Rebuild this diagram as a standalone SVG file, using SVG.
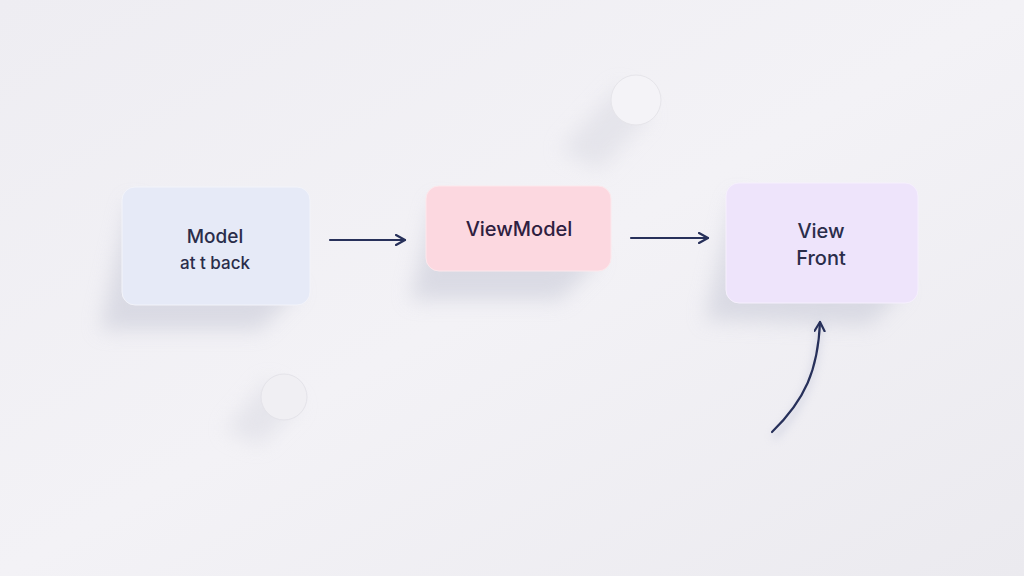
<svg xmlns="http://www.w3.org/2000/svg" width="1024" height="576" viewBox="0 0 1024 576">
<defs>
<linearGradient id="bg" x1="0" y1="0" x2="1" y2="1">
<stop offset="0" stop-color="#eeedf2"/>
<stop offset="0.5" stop-color="#f3f2f6"/>
<stop offset="1" stop-color="#ebeaef"/>
</linearGradient>
<filter id="blur" x="-50%" y="-50%" width="200%" height="200%"><feGaussianBlur stdDeviation="10"/></filter>
<filter id="blur2" x="-50%" y="-50%" width="200%" height="200%"><feGaussianBlur stdDeviation="4"/></filter>
<marker id="ah" viewBox="0 0 12 12" refX="10" refY="6" markerWidth="12" markerHeight="12" markerUnits="userSpaceOnUse" orient="auto">
<path d="M1,1 L10,6 L1,11" fill="none" stroke="#27305a" stroke-width="2.2" stroke-linejoin="round" stroke-linecap="round"/>
</marker>
<style>
.lbl{font-family:"Inter","Liberation Sans",sans-serif;fill:#2a2d4a;text-anchor:middle;font-weight:500}
.conn{fill:none;stroke:#27305a;stroke-width:2.2;stroke-linecap:round}
.shadow{fill:#c6c8d6;opacity:0.55;filter:url(#blur)}
</style>
</defs>
<rect width="1024" height="576" fill="url(#bg)"/>
<g id="shadows">
<path class="shadow" d="M130,200 L100,330 L260,330 L300,290 Z"/>
<path class="shadow" d="M435,200 L410,300 L560,300 L600,260 Z"/>
<path class="shadow" d="M735,195 L705,320 L870,325 L905,290 Z"/>
<path d="M620,85 L560,150 L600,170 L650,115 Z" fill="#dcdce4" opacity="0.6" filter="url(#blur)"/>
<path d="M268,380 L225,430 L260,445 L300,405 Z" fill="#dcdce4" opacity="0.6" filter="url(#blur)"/>
</g>
<circle cx="636" cy="100" r="25" fill="#f4f3f7" stroke="#e6e5ea" stroke-width="1"/>
<circle cx="284" cy="397" r="23" fill="#f0eff3" stroke="#e4e3e9" stroke-width="1"/>
<g id="connectors">
<path class="conn" d="M330,240 L405,240" marker-end="url(#ah)"/>
<path class="conn" d="M631,238 L708,238" marker-end="url(#ah)"/>
<path d="M774,438 C805,405 818,370 820,322" fill="none" stroke="#b8bcd2" stroke-width="5" opacity="0.5" filter="url(#blur2)"/>
<path class="conn" d="M772,432 C805,400 818,370 820,322" marker-end="url(#ah)"/>
</g>
<g id="model">
<rect x="122" y="187" width="188" height="118" rx="13" fill="#e6eaf7" stroke="#f3f4fa" stroke-width="1"/>
<text class="lbl" x="215" y="243" font-size="19">Model</text>
<text class="lbl" x="215" y="269" font-size="17">at t back</text>
</g>
<g id="viewmodel">
<rect x="426" y="186" width="185" height="85" rx="13" fill="#fcd8e0" stroke="#fde8ec" stroke-width="1"/>
<text class="lbl" x="519" y="236" font-size="20" style="fill:#2e2040">ViewModel</text>
</g>
<g id="view">
<rect x="726" y="183" width="192" height="120" rx="13" fill="#eee4fb" stroke="#f6f0fd" stroke-width="1"/>
<text class="lbl" x="821" y="238" font-size="20">View</text>
<text class="lbl" x="821" y="265" font-size="20">Front</text>
</g>
</svg>
